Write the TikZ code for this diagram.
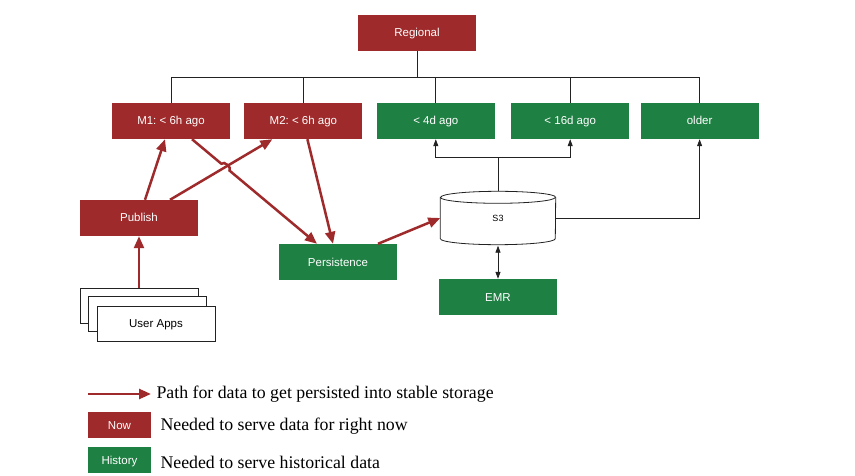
\documentclass[tikz,border=0pt]{standalone}
\usepackage{fontspec}
\setmainfont{Liberation Serif}
\newfontfamily\boxfont{Liberation Sans}
\usetikzlibrary{arrows.meta,positioning,calc}
\definecolor{NowRed}{HTML}{9E2A2B}
\definecolor{HistGreen}{HTML}{1F8043}
\definecolor{LineGrey}{HTML}{222222}
\frenchspacing

\begin{document}
\begin{tikzpicture}[
    x=1pt, y=-1pt,
    node distance=14pt,
    every node/.style={font=\boxfont\fontsize{11.5}{13}\selectfont},
    now/.style={
        rectangle,
        fill=NowRed,
        text=white,
        minimum width=118pt,
        minimum height=36pt,
        text height=9.5pt,
        text depth=1.5pt,
        inner sep=0pt
    },
    hist/.style={
        rectangle,
        fill=HistGreen,
        text=white,
        minimum width=118pt,
        minimum height=36pt,
        text height=9.5pt,
        text depth=1.5pt,
        inner sep=0pt
    },
    app/.style={
        rectangle,
        draw=LineGrey,
        fill=white,
        line width=0.8pt,
        minimum width=118pt,
        minimum height=35pt,
        text height=9.5pt,
        text depth=1.5pt,
        inner sep=0pt
    },
    store/.style={
        rectangle,
        minimum width=115pt,
        minimum height=53pt,
        inner sep=0pt,
        font=\boxfont\fontsize{9}{11}\selectfont
    },
    tag/.style={
        rectangle,
        text=white,
        minimum width=63pt,
        minimum height=26pt,
        text height=9.5pt,
        text depth=1.5pt,
        inner sep=0pt
    },
    note/.style={
        anchor=west,
        font=\fontsize{17.8}{20}\selectfont
    },
    persist/.style={
        -{Triangle[length=12pt,width=10pt]},
        line width=2.5pt,
        color=NowRed
    },
    link/.style={
        -{Triangle[length=7pt,width=5pt]},
        line width=0.8pt,
        color=LineGrey
    },
    plain/.style={
        line width=0.8pt,
        color=LineGrey
    }
]
\useasboundingbox (0,0) rectangle (855,476);

\node[now] (regional) at (417,33) {Regional};

\node[now] (m1) at (171,121) {M1: < 6h ago};
\node[now, right=of m1] (m2) {M2: < 6h ago};
\node[hist, right=of m2] (d4) {< 4d ago};
\node[hist, right=16pt of d4] (d16) {< 16d ago};
\node[hist, right=11pt of d16] (older) {older};

\node[now] (publish) at (139,218) {Publish};
\node[hist] (pers) at (338,262) {Persistence};
\node[hist] (emr) at (498,297) {EMR};

% S3 drum
\node[store] (s3) at (498,218) {};
\draw[plain, fill=white] ([yshift=-6pt]s3.north west) -- ([yshift=6pt]s3.south west)
    arc[start angle=180, end angle=360, x radius=57.5pt, y radius=6pt]
    -- ([yshift=-6pt]s3.north east)
    arc[start angle=0, end angle=180, x radius=57.5pt, y radius=6pt] -- cycle;
\draw[plain] ([yshift=-6pt]s3.north west)
    arc[start angle=180, end angle=360, x radius=57.5pt, y radius=6pt];
\node[font=\boxfont\fontsize{9}{11}\selectfont] (s3txt) at (s3) {S3};

\node[app] (appsback) at (139,305.5) {};
\node[app] (appsmid) at (147.5,314) {};
\node[app] (apps) at (156,323.5) {User Apps};

% tree from Regional
\coordinate (bus) at (417,77);
\draw[plain] (regional) -- (bus);
\draw[plain] (bus) -| (m1.north);
\draw[plain] (bus) -| (m2.north);
\draw[plain] (bus) -| (d4.north);
\draw[plain] (bus) -| (d16.north);
\draw[plain] (bus) -| (older.north);

% S3 fan out
\coordinate (sjoin) at (498,157);
\draw[plain] (s3.north) -- (sjoin);
\draw[link] (sjoin) -| (d4.south);
\draw[link] (sjoin) -| (d16.south);
\draw[link] (s3.east) -| (older.south);
\draw[link, {Triangle[length=7pt,width=5pt]}-{Triangle[length=7pt,width=5pt]}] ([yshift=-1pt]s3.south) -- (emr.north);

% persistence path
\draw[persist] (appsback.north) -- (publish.south);
\draw[persist] ([xshift=6pt]publish.north) -- ([xshift=-6pt]m1.south);
\draw[persist] ([xshift=31pt]publish.north) -- ([xshift=-31pt]m2.south);
\draw[persist] ([xshift=21pt]m1.south) -- ($([xshift=21pt]m1.south)!0.235!([xshift=-21pt]pers.north)$)
    to[bend left=90] ($([xshift=21pt]m1.south)!0.30!([xshift=-21pt]pers.north)$)
    -- ([xshift=-21pt]pers.north);
\draw[persist] ([xshift=4pt]m2.south) -- ([xshift=-5pt]pers.north);
\draw[persist] ([xshift=40pt]pers.north) -- (s3.west);

% key
\coordinate (keyfrom) at (88,394);
\coordinate (keyto) at (151,394);
\draw[persist] (keyfrom) -- (keyto);
\node[note] (keypath) at (153,394) {Path for data to get persisted into stable storage};
\node[tag, fill=NowRed] (keynow) at (119.5,425) {Now};
\node[note] (keynowtxt) at (157,426) {Needed to serve data for right now};
\node[tag, fill=HistGreen] (keyhist) at (119.5,460) {History};
\node[note] (keyhisttxt) at (157,462) {Needed to serve historical data};

\end{tikzpicture}
\end{document}
